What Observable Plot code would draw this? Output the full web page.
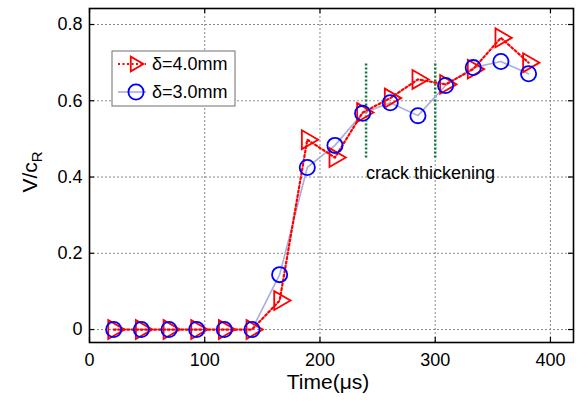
<!DOCTYPE html>
<html>
<head>
<meta charset="utf-8">
<script src="https://cdn.jsdelivr.net/npm/d3@7"></script>
<script src="https://cdn.jsdelivr.net/npm/@observablehq/plot@0.6"></script>
<style>
  html, body { margin: 0; padding: 0; background: #fff; }
  #chart svg { display: block; }
</style>
</head>
<body>
<div id="chart"></div>
<script>
// Crack-tip speed normalised by the Rayleigh wave speed, for two notch widths
const times = [21, 45, 69, 93, 117, 141, 165, 189, 213, 237, 261, 285, 309, 333, 357, 381];
const speed40 = [0, 0, 0, 0, 0, 0, 0.076, 0.498, 0.451, 0.569, 0.607, 0.656, 0.643, 0.683, 0.765, 0.700];
const speed30 = [0, 0, 0, 0, 0, 0, 0.144, 0.425, 0.483, 0.567, 0.595, 0.561, 0.640, 0.687, 0.703, 0.671];
const seriesNames = ["δ=4.0mm", "δ=3.0mm"];

const xTicks = [0, 100, 200, 300, 400];
const yTicks = [0, 0.2, 0.4, 0.6, 0.8];

// Window marking the crack-thickening phase
const thickeningBounds = [240, 300];
const thickeningRange = [0.45, 0.70];
const thickeningLabel = [{x: 240, y: 0.41, text: "crack thickening"}];

const W = 577, H = 403;
const M = {top: 8, right: 4, bottom: 61, left: 89};
const innerW = W - M.left - M.right;
const innerH = H - M.top - M.bottom;

const rows40 = times.map((t, i) => ({t, v: speed40[i]}));
const rows30 = times.map((t, i) => ({t, v: speed30[i]}));

const RED = "#ff0000", BLUE = "#0000ff", LINE30 = "#a9acde", GREEN = "#0b7a3b";
const FONT = "'Liberation Sans', Arial, Helvetica, sans-serif";
const TRI_R = 7;

const svg = Plot.plot({
  width: W,
  height: H,
  marginTop: M.top, marginRight: M.right, marginBottom: M.bottom, marginLeft: M.left,
  style: {fontFamily: FONT, fontSize: "18px", color: "#000", background: "#fff"},
  x: {domain: [0, 420]},
  y: {domain: [-0.034, 0.842]},
  marks: [
    // dotted grid
    Plot.ruleX(xTicks, {stroke: "#8a8a8a", strokeDasharray: "2,2", strokeWidth: 1}),
    Plot.ruleY(yTicks, {stroke: "#8a8a8a", strokeDasharray: "2,2", strokeWidth: 1}),
    // inward tick marks on all four sides
    Plot.ruleX(xTicks, {insetTop: innerH - 5, stroke: "#000", strokeWidth: 1.2}),
    Plot.ruleX(xTicks, {insetBottom: innerH - 5, stroke: "#000", strokeWidth: 1.2}),
    Plot.ruleY(yTicks, {insetRight: innerW - 5, stroke: "#000", strokeWidth: 1.2}),
    Plot.ruleY(yTicks, {insetLeft: innerW - 5, stroke: "#000", strokeWidth: 1.2}),
    Plot.axisX({ticks: xTicks, tickSize: 0, tickPadding: 11, fontSize: 18, label: null}),
    Plot.axisY({ticks: yTicks, tickSize: 0, tickPadding: 7, fontSize: 18, label: null,
                tickFormat: d => d === 0 ? "0" : d3.format(".1f")(d)}),
    // crack thickening window
    Plot.ruleX(thickeningBounds, {y1: thickeningRange[0], y2: thickeningRange[1],
                                  stroke: GREEN, strokeWidth: 2.5, strokeDasharray: "2,2"}),
    Plot.text(thickeningLabel, {x: "x", y: "y", text: "text", textAnchor: "start",
                                fontSize: 18, fill: "#000"}),
    // series
    Plot.line(rows30, {x: "t", y: "v", stroke: LINE30, strokeWidth: 1.6}),
    Plot.line(rows40, {x: "t", y: "v", stroke: RED, strokeWidth: 2.2, strokeDasharray: "2,2.5"}),
    Plot.dot(rows40, {x: "t", y: "v", symbol: "triangle", rotate: 90, r: TRI_R,
                      stroke: RED, strokeWidth: 1.8, fill: "none"}),
    Plot.dot(rows30, {x: "t", y: "v", symbol: "circle", r: 7.6,
                      stroke: BLUE, strokeWidth: 1.8, fill: "none"}),
    Plot.frame({stroke: "#000", strokeWidth: 1.6})
  ]
});

const s = d3.select(svg);

// axis titles
s.append("text")
  .attr("x", 328).attr("y", 389)
  .attr("text-anchor", "middle")
  .attr("font-family", FONT).attr("font-size", 21)
  .attr("fill", "#000")
  .text("Time(μs)");

const yl = s.append("text")
  .attr("transform", "translate(37,172) rotate(-90)")
  .attr("text-anchor", "middle")
  .attr("font-family", FONT).attr("font-size", 21)
  .attr("fill", "#000");
yl.append("tspan").text("V/c");
yl.append("tspan").attr("font-size", 15).attr("dy", 5).text("R");

// legend box
const lg = s.append("g").attr("transform", "translate(112,51)");
lg.append("rect").attr("width", 123).attr("height", 55)
  .attr("fill", "#fff").attr("stroke", "#6e6e6e").attr("stroke-width", 1);

const r1 = lg.append("g").attr("transform", "translate(0,13)");
r1.append("line").attr("x1", 6).attr("x2", 34).attr("y1", 0).attr("y2", 0)
  .attr("stroke", RED).attr("stroke-width", 2.2).attr("stroke-dasharray", "2,2.5");
r1.append("path").attr("d", d3.symbol(d3.symbolTriangle2, Math.PI * TRI_R * TRI_R)())
  .attr("transform", "translate(23,0) rotate(90)")
  .attr("fill", "none").attr("stroke", RED).attr("stroke-width", 1.8);
r1.append("text").attr("x", 40).attr("y", 0).attr("dy", "0.35em")
  .attr("text-anchor", "start")
  .attr("font-family", FONT).attr("font-size", 18).attr("fill", "#000")
  .text(seriesNames[0]);

const r2 = lg.append("g").attr("transform", "translate(0,41)");
r2.append("line").attr("x1", 6).attr("x2", 34).attr("y1", 0).attr("y2", 0)
  .attr("stroke", LINE30).attr("stroke-width", 1.6);
r2.append("circle").attr("cx", 24).attr("cy", 0).attr("r", 7.6)
  .attr("fill", "none").attr("stroke", BLUE).attr("stroke-width", 1.8);
r2.append("text").attr("x", 40).attr("y", 0).attr("dy", "0.35em")
  .attr("text-anchor", "start")
  .attr("font-family", FONT).attr("font-size", 18).attr("fill", "#000")
  .text(seriesNames[1]);

document.getElementById("chart").appendChild(svg);
</script>
</body>
</html>
